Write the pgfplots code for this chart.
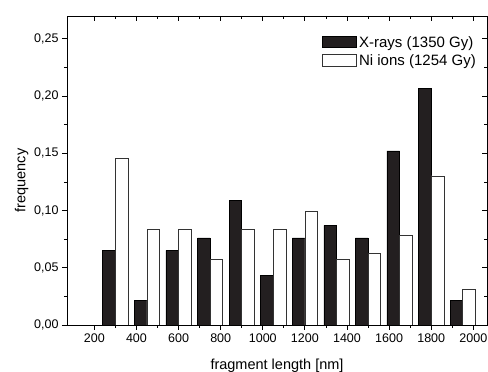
\documentclass[border=0pt]{standalone}
\usepackage{fontspec}
\setmainfont{Liberation Sans}
\usepackage{pgfplots}
\pgfplotsset{compat=1.18}
\definecolor{barblack}{HTML}{231F20}
\begin{document}
\begin{tikzpicture}
\pgfplotsset{
  common/.style={
    at={(0pt,0pt)}, anchor=south west,
    scale only axis, width=420pt, height=309pt,
    xmin=70, xmax=2065, ymin=0, ymax=0.27,
    xtick={200,400,...,2000}, minor x tick num=1,
    ytick={0,0.05,...,0.25}, minor y tick num=1,
    major tick length=5pt, minor tick length=3pt,
    every tick/.style={black, line width=0.8pt},
    axis line style={line width=0.8pt},
  }
}
\begin{axis}[common,
  tick align=outside,
  xtick pos=bottom, ytick pos=left,
  /pgf/number format/assume math mode=true,
  tick label style={font=\fontsize{12.5}{14}\selectfont},
  xticklabel style={/pgf/number format/1000 sep={}},
  yticklabel style={/pgf/number format/.cd, fixed, fixed zerofill, precision=2, use comma},
  xlabel={fragment length [nm]}, ylabel={frequency},
  label style={font=\fontsize{14.5}{16}\selectfont},
  xlabel style={yshift=-10pt},
  ylabel style={yshift=-1pt, xshift=-10pt},
  ybar, bar width=60,
  legend style={at={(1,1)}, anchor=north east, xshift=-9pt, yshift=-18pt,
    draw=none, fill=none, font=\fontsize{15}{16}\selectfont,
    row sep=2.5pt, inner sep=0pt},
  legend cell align=left,
  legend image code/.code={\draw[#1, line width=0.6pt] (0pt,-5pt) rectangle (34pt,6.5pt);},
]
\addplot[fill=barblack, draw=black, line width=0.6pt, bar shift=-30] coordinates {
(300,0.0652) (450,0.0217) (600,0.0652) (750,0.0761) (900,0.1087) (1050,0.0435)
(1200,0.0761) (1350,0.0870) (1500,0.0761) (1650,0.1522) (1800,0.2065) (1950,0.0217)};
\addlegendentry{X-rays (1350 Gy)}
\addplot[fill=white, draw=black!80, line width=0.6pt, bar shift=30] coordinates {
(300,0.1458) (450,0.0833) (600,0.0833) (750,0.0573) (900,0.0833) (1050,0.0833)
(1200,0.0990) (1350,0.0573) (1500,0.0625) (1650,0.0781) (1800,0.1302) (1950,0.0313)};
\addlegendentry{Ni ions (1254 Gy)}
\end{axis}
\begin{axis}[common,
  tick align=inside,
  xtick pos=top, ytick pos=right,
  xticklabels={}, yticklabels={},
]
\end{axis}
\pgfresetboundingbox
\path[use as bounding box] (-67pt,-47pt) rectangle (421pt,325pt);
\end{tikzpicture}
\end{document}
